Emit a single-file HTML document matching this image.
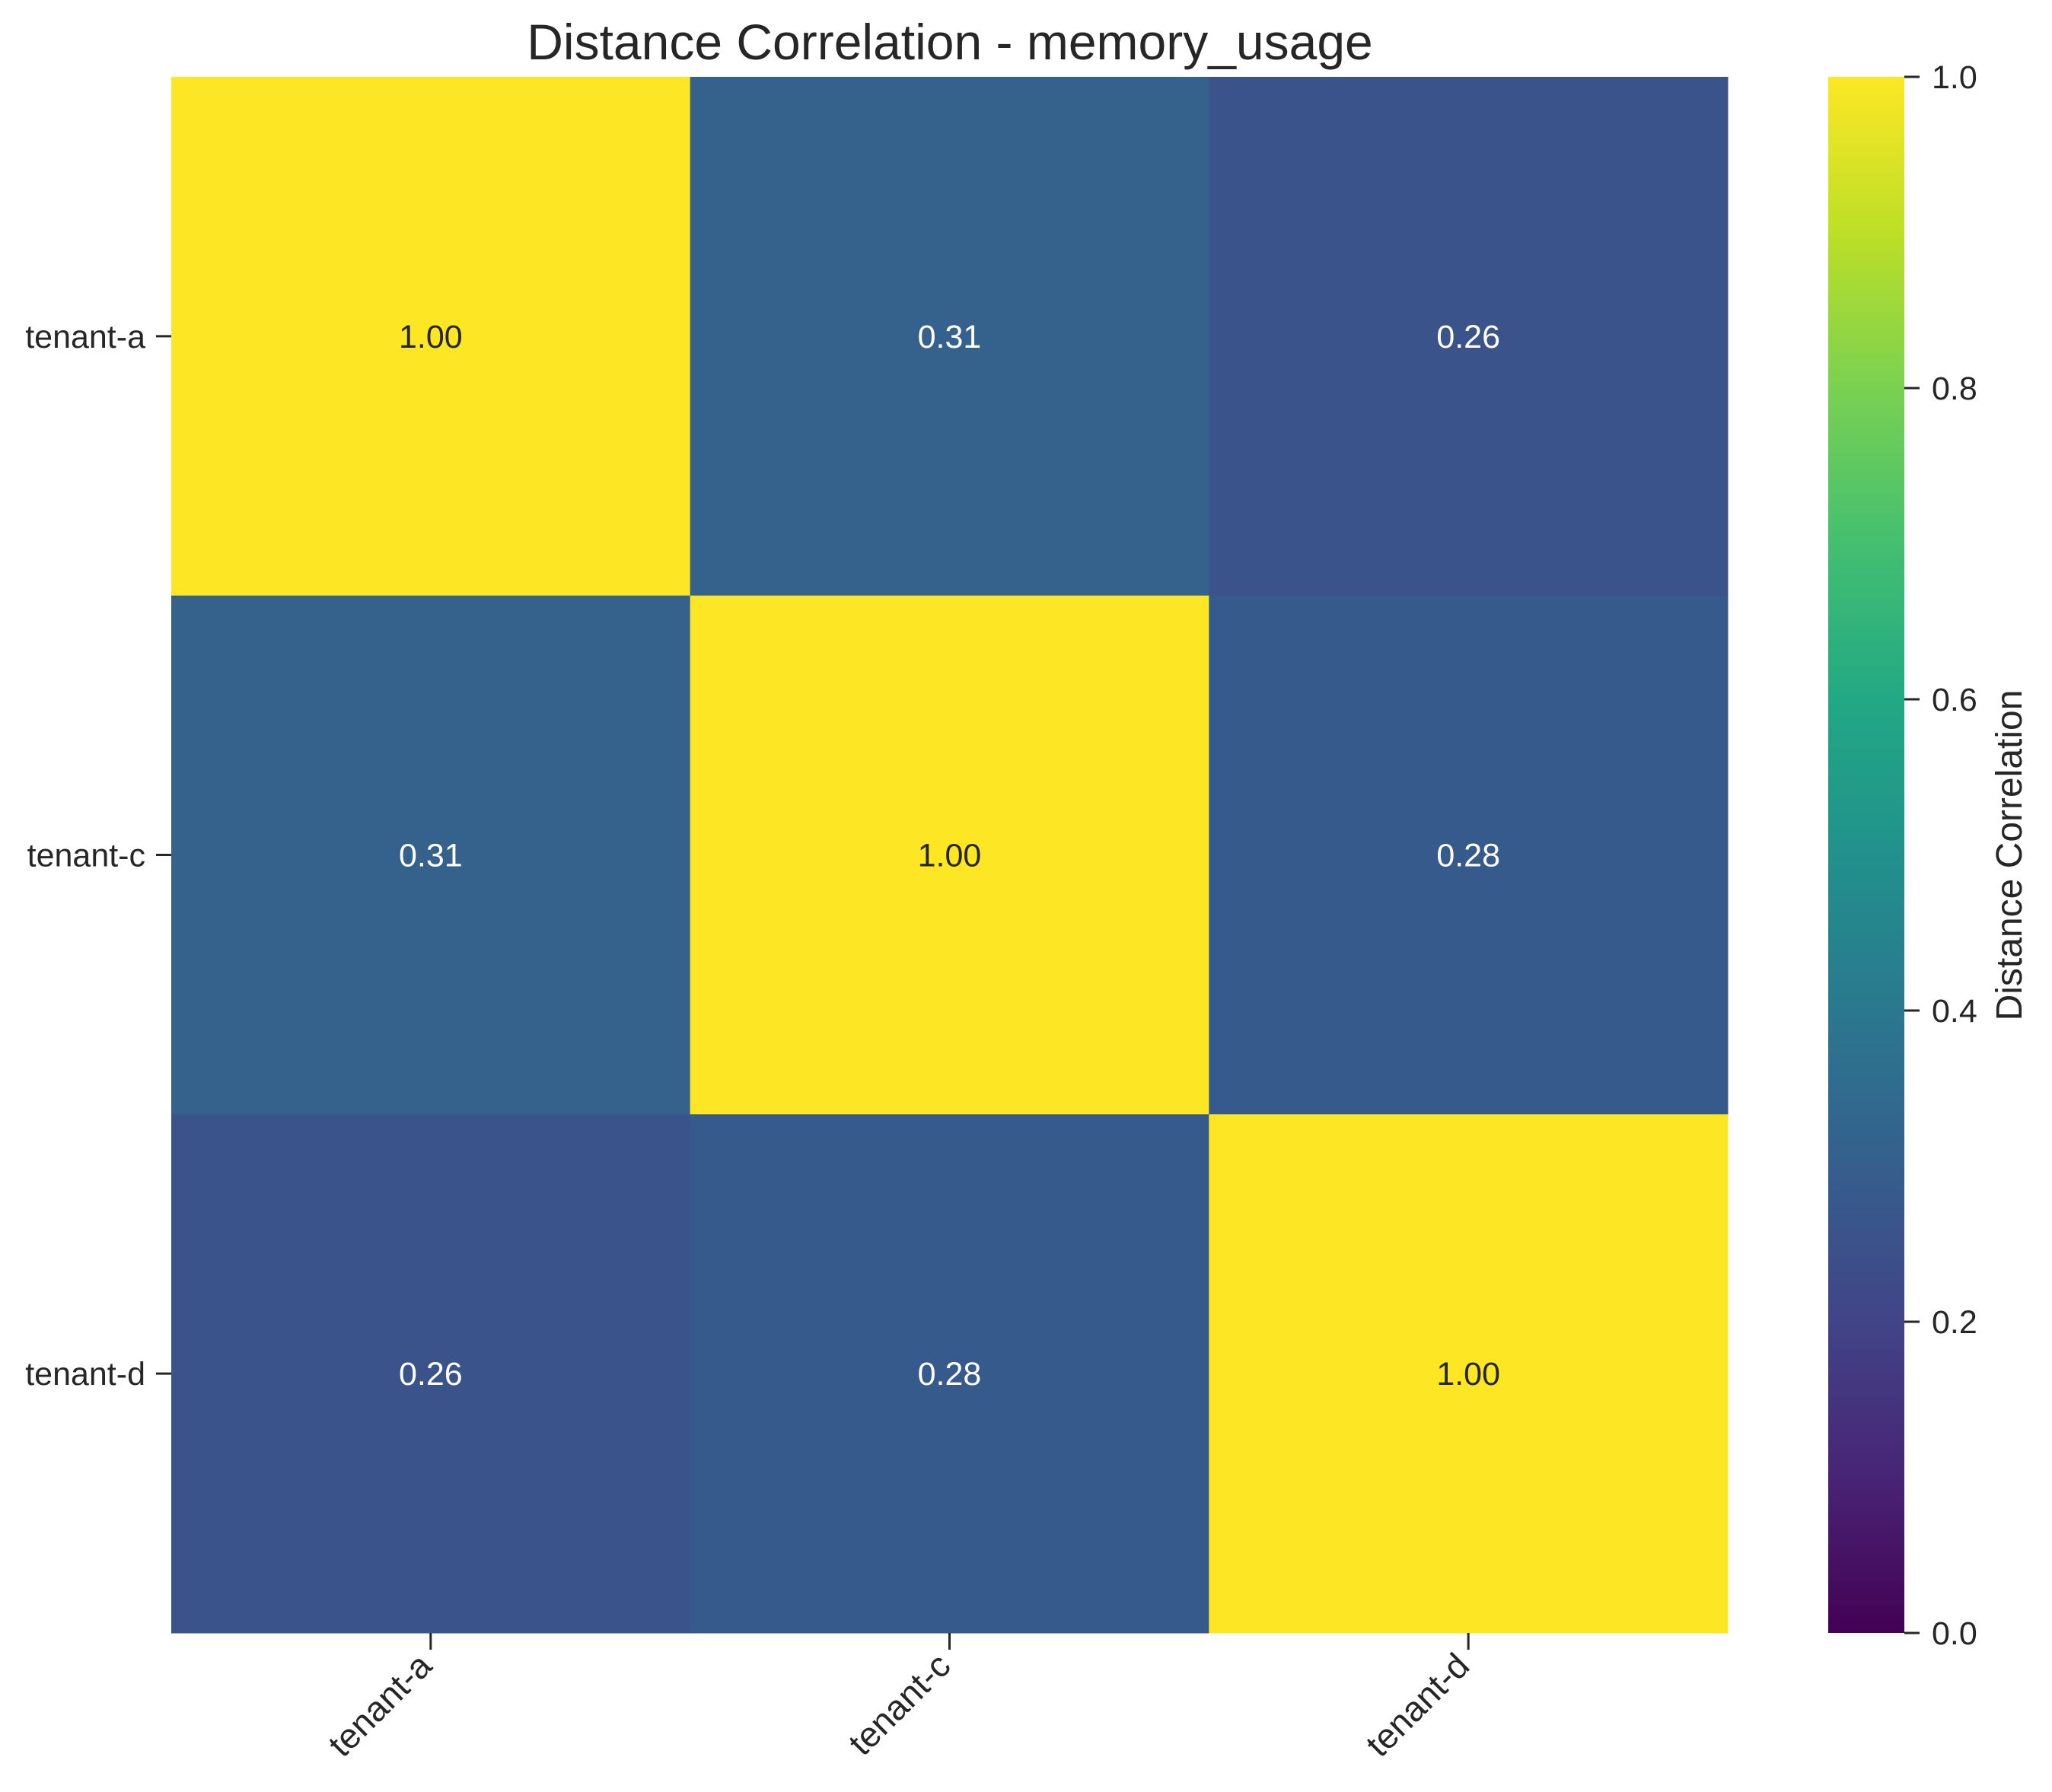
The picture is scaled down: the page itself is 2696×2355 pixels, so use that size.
<!DOCTYPE html>
<html><head><meta charset="utf-8"><style>
html,body{margin:0;padding:0;background:#fff;}
svg{display:block;font-family:"Liberation Sans",sans-serif;}
</style></head><body>
<svg id="chart" width="2696" height="2355" viewBox="0 0 2696 2355" xmlns="http://www.w3.org/2000/svg">
<defs>
<linearGradient id="vir" x1="0" y1="1" x2="0" y2="0">
<stop offset="0" stop-color="#440154"/><stop offset="0.1" stop-color="#482475"/><stop offset="0.2" stop-color="#414487"/><stop offset="0.3" stop-color="#355f8d"/><stop offset="0.4" stop-color="#2a788e"/><stop offset="0.5" stop-color="#21918c"/><stop offset="0.6" stop-color="#22a884"/><stop offset="0.7" stop-color="#44bf70"/><stop offset="0.8" stop-color="#7ad151"/><stop offset="0.9" stop-color="#bddf26"/><stop offset="1" stop-color="#fde725"/>
</linearGradient>
</defs>
<text x="1248" y="78" font-size="66" text-anchor="middle" fill="#262626">Distance Correlation - memory_usage</text>
<g id="cells"></g>
<g id="axes"></g>
<rect x="2402" y="101" width="100" height="2045" fill="url(#vir)"/>
<g id="cbar"></g>
<text x="0" y="0" font-size="48" text-anchor="middle" fill="#262626" transform="translate(2656,1124) rotate(-90)">Distance Correlation</text>
</svg>
<script>
const rowLabels = ["tenant-a","tenant-c","tenant-d"];
const colLabels = ["tenant-a","tenant-c","tenant-d"];
const row0 = [1.00, 0.31, 0.26];
const row1 = [0.31, 1.00, 0.28];
const row2 = [0.26, 0.28, 1.00];
const cbTicks = [0.0, 0.2, 0.4, 0.6, 0.8, 1.0];
const matrix = [row0, row1, row2];

const NS = "http://www.w3.org/2000/svg";
const X0 = 225, X1 = 2270, Y0 = 101, Y1 = 2146;
const cw = (X1 - X0) / colLabels.length, ch = (Y1 - Y0) / rowLabels.length;
const xPos = i => X0 + i * cw;
const yPos = j => Y0 + j * ch;
const cbY = v => Y1 - v * (Y1 - Y0);
const stops = ["#440154","#482475","#414487","#355f8d","#2a788e","#21918c","#22a884","#44bf70","#7ad151","#bddf26","#fde725"];
function hex(h){return [1,3,5].map(k=>parseInt(h.substr(k,2),16));}
function viridis(v){
  v = Math.max(0, Math.min(1, v));
  const p = v * 10, i = Math.min(9, Math.floor(p)), t = p - i;
  const a = hex(stops[i]), b = hex(stops[i+1]);
  return "rgb(" + a.map((c,k)=>Math.round(c + (b[k]-c)*t)).join(",") + ")";
}
function mk(tag, attrs, parent){
  const e = document.createElementNS(NS, tag);
  for (const k in attrs) e.setAttribute(k, attrs[k]);
  parent.appendChild(e); return e;
}
const cells = document.getElementById("cells");
const axes = document.getElementById("axes");
const cbar = document.getElementById("cbar");
matrix.forEach((row, j) => {
  row.forEach((v, i) => {
    const r = mk("rect", {x: xPos(i), y: yPos(j), width: cw + 0.5, height: ch + 0.5, fill: viridis(v)}, cells);
    
    
    const t = mk("text", {x: xPos(i) + cw/2, y: yPos(j) + ch/2 + 15, "font-size": 43, "text-anchor": "middle", fill: v > 0.6 ? "#262626" : "#ffffff"}, cells);
    t.textContent = v.toFixed(2);
    
    
  });
});
rowLabels.forEach((lab, j) => {
  const yc = yPos(j) + ch/2;
  const tk = mk("line", {x1: 205, x2: 225, y1: yc, y2: yc, stroke: "#262626", "stroke-width": 3}, axes);
  
  
  const t = mk("text", {x: 191, y: yc + 15, "font-size": 43, "text-anchor": "end", fill: "#262626"}, axes);
  t.textContent = lab;
  
  
});
colLabels.forEach((lab, i) => {
  const xc = xPos(i) + cw/2;
  const tk = mk("line", {x1: xc, x2: xc, y1: Y1, y2: Y1 + 22, stroke: "#262626", "stroke-width": 3}, axes);
  
  
  const t = mk("text", {x: 0, y: 0, "font-size": 46, "text-anchor": "end", fill: "#262626", transform: "translate(" + (xc + 4) + "," + (Y1 + 46) + ") rotate(-45)"}, axes);
  t.textContent = lab;
  
  
});
cbTicks.forEach(v => {
  const y = cbY(v);
  const tk = mk("line", {x1: 2502, x2: 2522, y1: y, y2: y, stroke: "#262626", "stroke-width": 3}, cbar);
  
  
  const t = mk("text", {x: 2538, y: y + 15, "font-size": 43, fill: "#262626"}, cbar);
  t.textContent = v.toFixed(1);
  
  
});
</script>
</body></html>
